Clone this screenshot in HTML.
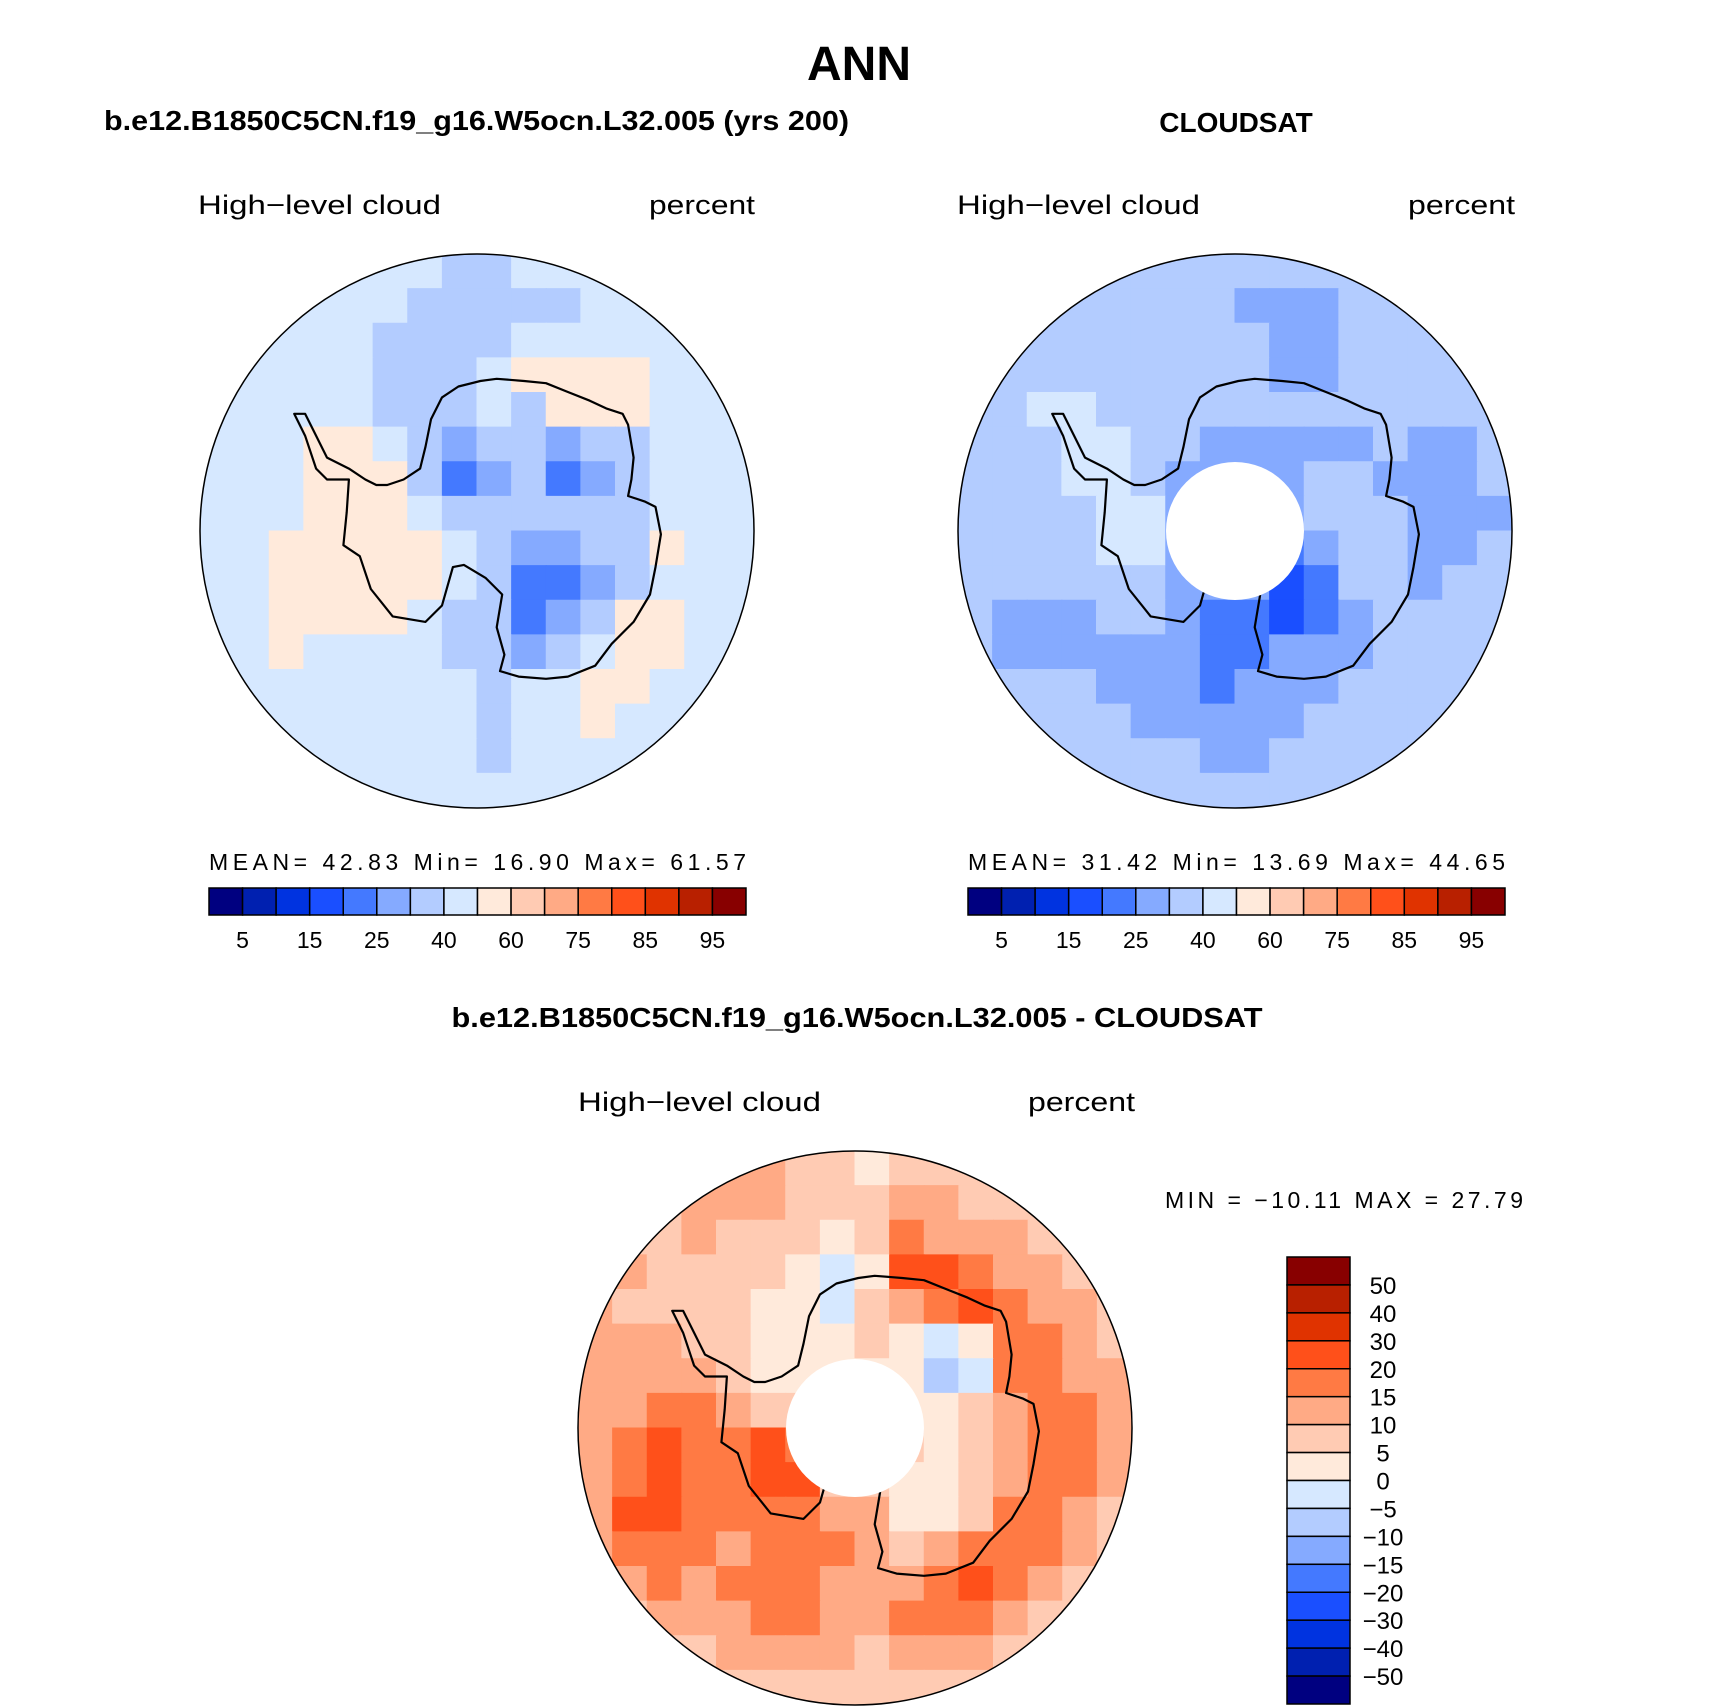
<!DOCTYPE html>
<html><head><meta charset="utf-8">
<style>html,body{margin:0;padding:0;background:#fff}svg{display:block}
text{font-family:"Liberation Sans",sans-serif}</style></head>
<body>
<svg id="fig" xmlns="http://www.w3.org/2000/svg" width="1710" height="1708" viewBox="0 0 1710 1708">
<rect width="1710" height="1708" fill="#fff"/>
<text x="859" y="80" font-size="48" font-weight="bold" text-anchor="middle">ANN</text>
<text x="104" y="130" font-size="28" font-weight="bold" textLength="745" lengthAdjust="spacingAndGlyphs">b.e12.B1850C5CN.f19_g16.W5ocn.L32.005 (yrs 200)</text>
<text x="1236" y="132" font-size="28" font-weight="bold" text-anchor="middle">CLOUDSAT</text>
<text x="857" y="1027" font-size="28" font-weight="bold" text-anchor="middle" textLength="811" lengthAdjust="spacingAndGlyphs">b.e12.B1850C5CN.f19_g16.W5ocn.L32.005 - CLOUDSAT</text>
<g font-size="27" fill="#000">
<text x="198" y="214" textLength="243" lengthAdjust="spacingAndGlyphs">High−level cloud</text>
<text x="649" y="214" textLength="106" lengthAdjust="spacingAndGlyphs">percent</text>
<text x="957" y="214" textLength="243" lengthAdjust="spacingAndGlyphs">High−level cloud</text>
<text x="1408" y="214" textLength="107" lengthAdjust="spacingAndGlyphs">percent</text>
<text x="578" y="1111" textLength="243" lengthAdjust="spacingAndGlyphs">High−level cloud</text>
<text x="1028" y="1111" textLength="107" lengthAdjust="spacingAndGlyphs">percent</text>
</g>
<g font-size="23" fill="#000" xml:space="preserve">
<text x="209" y="870" textLength="537" lengthAdjust="spacing">MEAN=   42.83   Min=   16.90   Max=   61.57</text>
<text x="968" y="870" textLength="537" lengthAdjust="spacing">MEAN=   31.42   Min=   13.69   Max=   44.65</text>
<text x="1165" y="1208" textLength="358" lengthAdjust="spacing">MIN  =  −10.11  MAX  =   27.79</text>
</g>
<g id="layer"></g>
</svg>
<script>
const colors=["#000080","#0020b0","#0033e0","#1a4fff","#4479ff","#85aaff","#b3ccff","#d6e8ff","#ffeadb","#ffcbb3","#ffaa85","#ff7a44","#ff501a","#e03300","#b82000","#880000"];
const absLevels=[5,10,15,20,25,30,40,50,60,70,75,80,85,90,95];
const absTickLabels=["5","15","25","40","60","75","85","95"];
const diffLevels=[-50,-40,-30,-20,-15,-10,-5,0,5,10,15,20,30,40,50];
const diffTickLabels=["50","40","30","20","15","10","5","0","−5","−10","−15","−20","−30","−40","−50"];
// 16x16 grids (rows top->bottom, cols left->right), values in percent
const modelRows=[
[45,45,45,45,45,45,45,35,35,45,45,45,45,45,45,45],
[45,45,45,45,45,45,35,35,35,35,35,45,45,45,45,45],
[45,45,45,45,45,35,35,35,35,45,45,45,45,45,45,45],
[45,45,45,45,45,35,35,35,45,55,55,55,55,45,45,45],
[45,45,45,45,45,35,35,35,45,35,55,55,55,45,45,45],
[45,45,45,55,55,45,35,27,35,35,27,35,35,45,45,45],
[45,45,45,55,55,55,35,22,27,35,22,27,35,45,45,45],
[45,45,45,55,55,55,45,35,35,35,35,35,35,45,45,45],
[45,45,55,55,55,55,55,45,35,27,27,35,35,55,45,45],
[45,45,55,55,55,55,55,45,35,22,22,27,35,45,45,45],
[45,45,55,55,55,55,45,35,35,22,27,35,55,55,45,45],
[45,45,55,45,45,45,45,35,35,27,35,45,55,55,45,45],
[45,45,45,45,45,45,45,45,35,45,45,55,55,45,45,45],
[45,45,45,45,45,45,45,45,35,45,45,55,45,45,45,45],
[45,45,45,45,45,45,45,45,35,45,45,45,45,45,45,45],
[45,45,45,45,45,45,45,45,45,45,45,45,45,45,45,45]];
const obsRows=[
[35,35,35,35,35,35,35,35,35,35,35,35,35,35,35,35],
[35,35,35,35,35,35,35,35,27,27,27,35,35,35,35,35],
[35,35,35,35,35,35,35,35,35,27,27,35,35,35,35,35],
[35,35,35,35,35,35,35,35,35,27,27,35,35,35,35,35],
[35,35,45,45,35,35,35,35,35,35,35,35,35,35,35,35],
[35,35,35,45,45,35,35,27,27,27,27,27,35,27,27,35],
[35,35,35,45,45,35,27,27,27,27,35,35,27,27,27,35],
[35,35,35,35,45,45,27,27,27,27,35,35,35,27,27,27],
[35,35,35,35,45,45,27,27,27,22,27,35,35,27,27,35],
[35,35,35,35,35,35,27,27,27,18,22,35,35,27,35,35],
[35,27,27,27,35,35,27,22,22,18,22,27,35,35,35,35],
[35,27,27,27,27,27,27,22,22,27,27,27,35,35,35,35],
[35,35,35,35,27,27,27,22,27,27,27,35,35,35,35,35],
[35,35,35,35,35,27,27,27,27,27,35,35,35,35,35,35],
[35,35,35,35,35,35,35,27,27,35,35,35,35,35,35,35],
[35,35,35,35,35,35,35,35,35,35,35,35,35,35,35,35]];
const diffRows=[
[7.5,7.5,7.5,7.5,12,12,7.5,7.5,2.5,7.5,7.5,7.5,7.5,7.5,7.5,7.5],
[7.5,7.5,7.5,12,12,12,7.5,7.5,7.5,12,12,7.5,7.5,7.5,7.5,7.5],
[7.5,7.5,7.5,12,7.5,7.5,7.5,2.5,7.5,17,12,12,12,7.5,7.5,7.5],
[7.5,12,7.5,7.5,7.5,7.5,2.5,-2.5,2.5,25,25,17,12,12,7.5,7.5],
[12,7.5,7.5,7.5,7.5,2.5,2.5,-2.5,7.5,12,17,25,17,12,12,7.5],
[12,12,12,7.5,7.5,2.5,2.5,2.5,7.5,2.5,-2.5,2.5,17,17,12,7.5],
[12,12,12,12,7.5,2.5,2.5,2.5,2.5,2.5,-7.5,-2.5,17,17,12,12],
[12,12,17,17,12,7.5,7.5,7.5,7.5,2.5,2.5,7.5,12,17,17,12],
[12,17,25,17,17,25,17,7.5,7.5,7.5,2.5,7.5,12,17,17,12],
[12,17,25,17,17,25,25,7.5,7.5,2.5,2.5,7.5,12,17,17,12],
[12,25,25,17,17,17,17,12,12,2.5,2.5,7.5,17,17,12,7.5],
[12,17,17,17,12,17,17,17,12,7.5,12,17,17,17,12,7.5],
[7.5,12,17,12,17,17,17,12,12,12,17,25,17,12,7.5,7.5],
[7.5,7.5,12,12,12,17,17,12,12,17,17,17,12,7.5,7.5,7.5],
[7.5,7.5,7.5,7.5,12,12,12,12,7.5,12,12,12,7.5,7.5,7.5,7.5],
[7.5,7.5,7.5,7.5,7.5,7.5,7.5,7.5,7.5,7.5,7.5,7.5,7.5,7.5,7.5,7.5]];
const coast=[[270,380],[280,400],[290,430],[300,440],[320,440],[318,470],[315,500],[330,510],[340,540],[360,565],[390,570],[405,555],[415,520],[425,518],[445,530],[460,545],[455,575],[462,600],[458,615],[475,620],[500,622],[520,620],[545,610],[560,590],[580,570],[595,545],[600,520],[605,490],[600,465],[590,460],[575,455],[578,440],[580,420],[575,390],[570,380],[555,375],[540,368],[520,360],[500,352],[480,350],[455,348],[440,350],[420,355],[405,365],[395,385],[390,410],[385,430],[370,440],[355,445],[345,445],[335,440],[320,430],[300,420],[290,400],[280,380]];

const NS="http://www.w3.org/2000/svg";
const layer=document.getElementById('layer');
function mk(tag,attrs,parent){const e=document.createElementNS(NS,tag);for(const k in attrs)e.setAttribute(k,attrs[k]);(parent||layer).appendChild(e);return e;}
function colorFor(v,levels){let i=0;while(i<levels.length&&v>=levels[i])i++;return colors[i];}

function drawMap(id,cx,cy,r,rows,levels,hole){
  const g=mk('g',{});
  
  
  const cp=mk('clipPath',{id:id+'-clip'},g);
  mk('circle',{cx:cx,cy:cy,r:r},cp);
  const cells=mk('g',{'clip-path':'url(#'+id+'-clip)'},g);
  const n=rows.length,cs=2*r/n;
  rows.forEach((row,i)=>row.forEach((v,j)=>{
    const c=mk('rect',{x:cx-r+j*cs-0.5,y:cy-r+i*cs-0.5,width:cs+1,height:cs+1,fill:colorFor(v,levels)},cells);
    
    
  }));
  const s=r/253;
  const d=coast.map((p,k)=>(k?'L':'M')+(cx+(p[0]-437)*s).toFixed(1)+' '+(cy+(p[1]-487)*s).toFixed(1)).join(' ')+'Z';
  const cl=mk('path',{d:d,fill:'none',stroke:'#000','stroke-width':2.2,'stroke-linejoin':'round'},cells);
  
  
  if(hole){const h=mk('circle',{cx:cx,cy:cy,r:69,fill:'#fff'},cells);
    
    }
  const b=mk('circle',{cx:cx,cy:cy,r:r,fill:'none',stroke:'#000','stroke-width':1.5},g);
  
  
}
drawMap('model',477,531,277,modelRows,absLevels,false);
drawMap('obs',1235,531,277,obsRows,absLevels,true);
drawMap('diff',855,1428,277,diffRows,diffLevels,true);

function hbar(id,x0,x1,y0,y1){
  const g=mk('g',{});
  
  
  const w=(x1-x0)/colors.length;
  colors.forEach((c,i)=>{const r=mk('rect',{x:x0+i*w,y:y0,width:w,height:y1-y0,fill:c,stroke:'#000','stroke-width':1.5},g);
    
    });
  absTickLabels.forEach((t,k)=>{const e=mk('text',{x:x0+w*(2*k+1),y:y1+33,'font-size':23,'text-anchor':'middle'},g);e.textContent=t;
    
    });
}
hbar('model',209,746,888,915);
hbar('obs',968,1505,888,915);

(function(){
  const g=mk('g',{});
  
  
  const x0=1287,x1=1350,y0=1257,y1=1704,h=(y1-y0)/colors.length;
  colors.slice().reverse().forEach((c,i)=>{const r=mk('rect',{x:x0,y:y0+i*h,width:x1-x0,height:h,fill:c,stroke:'#000','stroke-width':1.5},g);
    
    });
  diffTickLabels.forEach((t,k)=>{const e=mk('text',{x:1383,y:y0+h*(k+1)+9,'font-size':24,'text-anchor':'middle'},g);e.textContent=t;
    
    });
})();
</script>
</body></html>
